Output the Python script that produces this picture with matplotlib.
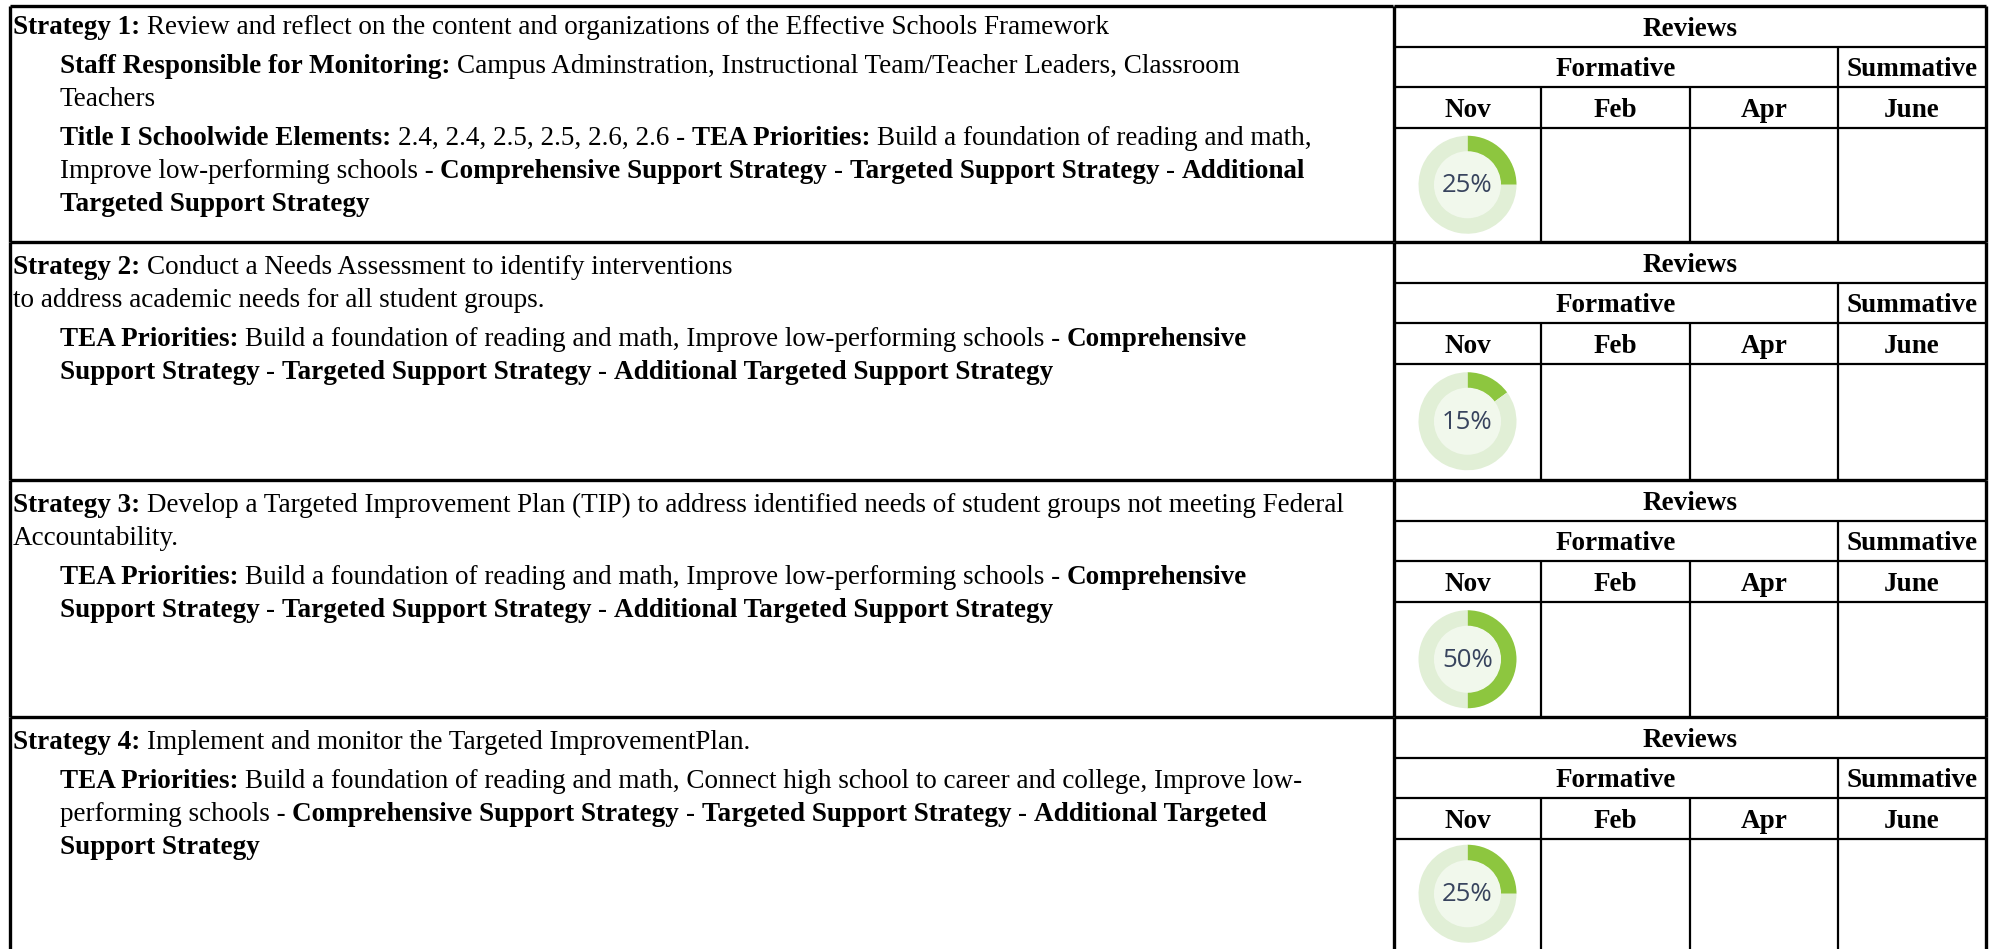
import re
import matplotlib
matplotlib.use("Agg")
import matplotlib.pyplot as plt
from matplotlib.patches import Circle

# ---------------- data ----------------
percent_done = [25, 15, 50, 25]          # Nov review progress per strategy
review_months = ["Nov", "Feb", "Apr", "June"]
review_title = "Reviews"
formative_label = "Formative"
summative_label = "Summative"

# strategy text: list of paragraphs, each a list of lines; **...** marks bold
strategy1 = [
    ["**Strategy 1:** Review and reflect on the content and organizations of the Effective Schools Framework"],
    ["**Staff Responsible for Monitoring:** Campus Adminstration, Instructional Team/Teacher Leaders, Classroom",
     "Teachers"],
    ["**Title I Schoolwide Elements:** 2.4, 2.4, 2.5, 2.5, 2.6, 2.6 - **TEA Priorities:** Build a foundation of reading and math,",
     "Improve low-performing schools - **Comprehensive Support Strategy** - **Targeted Support Strategy** - **Additional**",
     "**Targeted Support Strategy**"],
]
strategy2 = [
    ["**Strategy 2:** Conduct a Needs Assessment to identify interventions",
     "to address academic needs for all student groups."],
    ["**TEA Priorities:** Build a foundation of reading and math, Improve low-performing schools - **Comprehensive**",
     "**Support Strategy** - **Targeted Support Strategy** - **Additional Targeted Support Strategy**"],
]
strategy3 = [
    ["**Strategy 3:** Develop a Targeted Improvement Plan (TIP) to address identified needs of student groups not meeting Federal",
     "Accountability."],
    ["**TEA Priorities:** Build a foundation of reading and math, Improve low-performing schools - **Comprehensive**",
     "**Support Strategy** - **Targeted Support Strategy** - **Additional Targeted Support Strategy**"],
]
strategy4 = [
    ["**Strategy 4:** Implement and monitor the Targeted ImprovementPlan."],
    ["**TEA Priorities:** Build a foundation of reading and math, Connect high school to career and college, Improve low-",
     "performing schools - **Comprehensive Support Strategy** - **Targeted Support Strategy** - **Additional Targeted**",
     "**Support Strategy**"],
]
strategies = [strategy1, strategy2, strategy3, strategy4]

# ---------------- layout / style ----------------
W, H, DPI = 1997, 949, 100
SERIF = "Liberation Serif"
FS = 19.5
block_tops = [6, 242, 480, 717, 949]
left_x0, left_x1 = 10, 1393
col_x = [1394, 1541, 1690, 1838, 1986]
row_h = 40.5
GREEN = "#8dc63f"
RING = "#e1efd6"
INNER = "#f1f8ec"
LW = 1.6
LW_BLOCK = 2.4
LINE_STEP = 33
PARA_STEP = 39

fig = plt.figure(figsize=(W / DPI, H / DPI), dpi=DPI)
ax = fig.add_axes([0, 0, 1, 1])
ax.set_xlim(0, W)
ax.set_ylim(H, 0)
ax.axis("off")
renderer = fig.canvas.get_renderer()


def text_width(s, bold):
    t = ax.text(0, 0, s, fontsize=FS, family=SERIF, fontweight="bold" if bold else "normal")
    w = t.get_window_extent(renderer).width
    t.remove()
    return w


space_w = {b: text_width("x x", b) - text_width("xx", b) for b in (False, True)}


def parse_runs(line):
    parts = re.split(r"(\*\*.*?\*\*)", line)
    runs = []
    for p in parts:
        if not p:
            continue
        if p.startswith("**"):
            runs.append((p[2:-2], True))
        else:
            runs.append((p, False))
    return runs


def draw_line(x, y, line):
    for s, bold in parse_runs(line):
        if s.startswith(" "):
            x += space_w[bold]
        core = s.strip()
        if core:
            t = ax.text(x, y, core, fontsize=FS, family=SERIF,
                        fontweight="bold" if bold else "normal",
                        va="baseline", ha="left", color="black")
            x = x + t.get_window_extent(renderer).width
        if s.endswith(" ") and core:
            x += space_w[bold]


def hline(y, x0, x1, lw=LW):
    ax.plot([x0, x1], [y, y], color="black", lw=lw, solid_capstyle="butt")


def vline(x, y0, y1, lw=LW):
    ax.plot([x, x], [y0, y1], color="black", lw=lw, solid_capstyle="butt")


for b, paras in enumerate(strategies):
    top, bottom = block_tops[b], block_tops[b + 1]

    # ---- left panel text ----
    y = top + (28 if b == 0 else 32)
    first = True
    for pi, para in enumerate(paras):
        if not first:
            y += PARA_STEP
        indent = 13 if pi == 0 else 60
        for li, line in enumerate(para):
            if li > 0:
                y += LINE_STEP
            draw_line(indent, y, line)
        first = False

    # ---- left panel borders ----
    hline(top, left_x0, left_x1, LW_BLOCK)
    vline(left_x0, top, bottom, LW_BLOCK)

    # ---- right review table ----
    r1, r2, r3 = top + row_h, top + 2 * row_h, top + 3 * row_h
    hline(top, col_x[0], col_x[-1], LW_BLOCK)
    hline(r1, col_x[0], col_x[-1])
    hline(r2, col_x[0], col_x[-1])
    hline(r3, col_x[0], col_x[-1])
    vline(col_x[0], top, bottom, LW_BLOCK)
    vline(col_x[-1], top, bottom, LW_BLOCK)
    vline(col_x[3], r1, bottom)
    vline(col_x[1], r2, bottom)
    vline(col_x[2], r2, bottom)

    ax.text((col_x[0] + col_x[-1]) / 2, top + row_h / 2, review_title, fontsize=FS,
            family=SERIF, fontweight="bold", ha="center", va="center_baseline")
    ax.text((col_x[0] + col_x[3]) / 2, r1 + row_h / 2, formative_label, fontsize=FS,
            family=SERIF, fontweight="bold", ha="center", va="center_baseline")
    ax.text((col_x[3] + col_x[4]) / 2, r1 + row_h / 2, summative_label, fontsize=FS,
            family=SERIF, fontweight="bold", ha="center", va="center_baseline")
    for m, month in enumerate(review_months):
        ax.text((col_x[m] + col_x[m + 1]) / 2, r2 + row_h / 2, month, fontsize=FS,
                family=SERIF, fontweight="bold", ha="center", va="center_baseline")

    # ---- donut for Nov progress ----
    cx = (col_x[0] + col_x[1]) / 2
    cell_bottom = min(bottom, block_tops[b] + 237)
    cy = (r3 + cell_bottom) / 2
    size = 98
    dax = fig.add_axes([(cx - size / 2) / W, 1 - (cy + size / 2) / H, size / W, size / H])
    p = percent_done[b]
    dax.pie([p, 100 - p], colors=[GREEN, RING], startangle=90, counterclock=False,
            radius=1.0, wedgeprops=dict(width=0.33, edgecolor="none"))
    dax.add_patch(Circle((0, 0), 0.67, color=INNER, zorder=3))
    dax.text(0, -0.02, f"{p}%", ha="center", va="center", fontsize=18.5,
             family="Open Sans", color="#38445e", zorder=4)
    dax.set_xlim(-1, 1)
    dax.set_ylim(-1, 1)
    dax.set_aspect("equal")
    dax.axis("off")

fig.savefig("out.png", dpi=DPI)
